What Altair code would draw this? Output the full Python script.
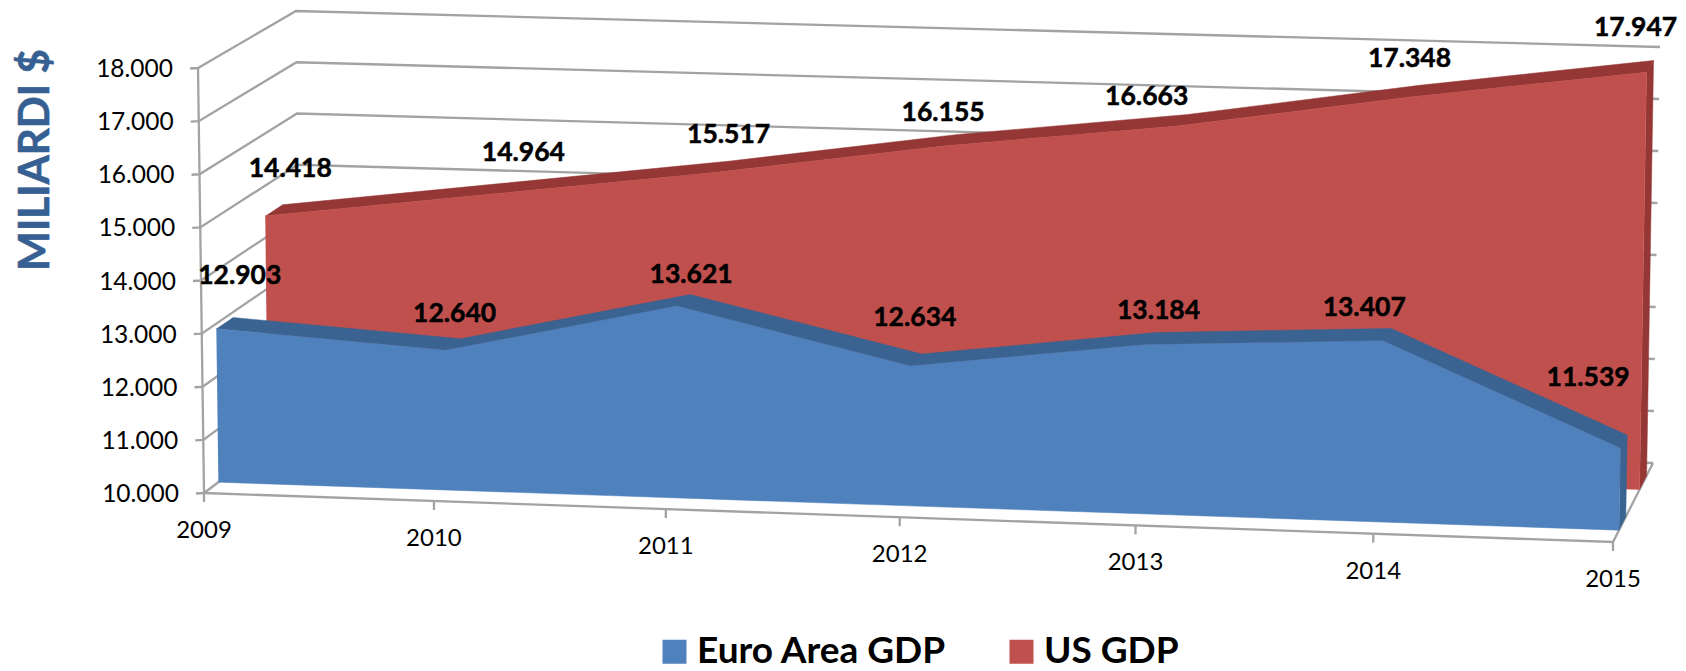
import altair as alt
import pandas as pd

# ---- chart values -------------------------------------------------------
years = [2009, 2010, 2011, 2012, 2013, 2014, 2015]
euro_gdp = [12903, 12640, 13621, 12634, 13184, 13407, 11539]
us_gdp = [14418, 14964, 15517, 16155, 16663, 17348, 17947]
value_ticks = [10000, 11000, 12000, 13000, 14000, 15000, 16000, 17000, 18000]
series_names = ["Euro Area GDP", "US GDP"]
axis_title = "MILIARDI $"

# ---- layout: the 3D box of the picture, in page pixels --------------------
W, H = 1670, 663
FONT = "Lato"
FBL, FTL, FBR, FTR = (204, 493), (198, 68), (1613, 542), (1620, 114)
BBL, BTL, BBR, BTR = (300, 421), (296, 11), (1653, 463), (1660, 47)
EURO_DEPTH = (0.15, 0.32)
US_DEPTH = (0.665, 0.84)
EURO_NUDGE = [(7, -41), (-6, -25), (1, -20), (-7, -36), (3, -22), (-27, -20), (-39, -57)]
US_NUDGE = [(8, -36), (18, -30), (-2, -26), (-15, -21), (-41, -18), (-10, -26), (-18, -32)]


def lerp(a, b, t):
    return (a[0] + (b[0] - a[0]) * t, a[1] + (b[1] - a[1]) * t)


def project(i, value, w):
    """Year index, value and depth (0 front, 1 back) to page pixels."""
    u = i / (len(years) - 1)
    u = u * (1 + 0.025 * (u - 1))
    v = (value - value_ticks[0]) / (value_ticks[-1] - value_ticks[0])
    bottom = lerp(lerp(FBL, FBR, u), lerp(BBL, BBR, u), w)
    top = lerp(lerp(FTL, FTR, u), lerp(BTL, BTR, u), w)
    return lerp(bottom, top, v)


def rows(points, group=0):
    return [{"x": p[0], "y": p[1], "o": k, "g": group} for k, p in enumerate(points)]


n = len(years)
last = n - 1
base = value_ticks[0]


def front_face(vals, depth):
    w = depth[0]
    return rows([project(i, vals[i], w) for i in range(n)] +
                [project(last, base, w), project(0, base, w)])


def dark_faces(vals, depth):
    f, b = depth
    ribbon = [project(i, vals[i], f) for i in range(n)] + \
             [project(i, vals[i], b) for i in range(last, -1, -1)]
    side = [project(last, vals[last], f), project(last, vals[last], b),
            project(last, base, b), project(last, base, f)]
    return rows(ribbon, 0) + rows(side, 1)


# ---- scales: page pixels ----------------------------------------------------
X = alt.X("x:Q", scale=alt.Scale(domain=[8, 8 + W], nice=False, zero=False), axis=None)
Y = alt.Y("y:Q", scale=alt.Scale(domain=[8 + H, 8], nice=False, zero=False), axis=None)


def poly(data, color):
    return alt.Chart(pd.DataFrame(data)).mark_line(
        fill=color, stroke=color, strokeWidth=0.5, interpolate="linear"
    ).encode(x=X, y=Y, order="o:Q", detail="g:N")


def text_layer(df, size, bold=False, align="center", color="#000000", angle=None, heft=0):
    kw = {"angle": angle} if angle is not None else {}
    if heft:
        kw.update(stroke=color, strokeWidth=heft)
    return alt.Chart(df).mark_text(
        font=FONT, fontSize=size, fontWeight="bold" if bold else "normal",
        align=align, baseline="middle", color=color, **kw
    ).encode(x=X, y=Y, text="t:N")


fmt = lambda v: f"{v:,}".replace(",", ".")

# ---- grid ---------------------------------------------------------------------
grid = []
for g, tv in enumerate(value_ticks):
    p0 = project(0, tv, 0)
    grid += rows([(p0[0] - 8, p0[1] + 0.5), p0, project(0, tv, 1), project(last, tv, 1)], g)
g = len(value_ticks)
grid += rows([project(0, value_ticks[-1], 0), project(0, base, 0)], g)
g += 1
grid += rows([project(0, base, 0), project(last, base, 0), project(last, base, 1)], g)
g += 1
for i in range(n):
    p = project(i, base, 0)
    grid += rows([p, (p[0], p[1] + 9)], g)
    g += 1

grid_layer = alt.Chart(pd.DataFrame(grid)).mark_line(
    color="#a3a3a3", strokeWidth=2.3
).encode(x=X, y=Y, order="o:Q", detail="g:N")

# ---- texts ----------------------------------------------------------------------
tick_text = []
for tv in value_ticks:
    p = project(0, tv, 0)
    tick_text.append({"x": p[0] - 25, "y": p[1] + 2, "t": fmt(tv)})

year_text = []
for i, yr in enumerate(years):
    p = project(i, base, 0)
    year_text.append({"x": p[0], "y": p[1] + 38, "t": str(yr)})

value_text = []
for vals, depth, nudge in ((euro_gdp, EURO_DEPTH, EURO_NUDGE), (us_gdp, US_DEPTH, US_NUDGE)):
    for i in range(n):
        p = project(i, vals[i], depth[1])
        value_text.append({"x": p[0] + nudge[i][0], "y": p[1] + nudge[i][1], "t": fmt(vals[i])})

title_df = pd.DataFrame([{"x": 36, "y": 160, "t": axis_title}])

# ---- legend: a real one, from a colour scale ---------------------------------------
legend_df = pd.DataFrame({"series": series_names, "x": [100, 100], "y": [100, 100]})
legend_layer = alt.Chart(legend_df).mark_point(filled=True, size=0, opacity=0).encode(
    x=X, y=Y,
    color=alt.Color(
        "series:N",
        scale=alt.Scale(domain=series_names, range=["#4f81bd", "#c0504d"]),
        legend=alt.Legend(
            orient="none", legendX=648, legendY=625, direction="horizontal", columns=2,
            title=None, symbolType="square", symbolSize=576, symbolOpacity=1,
            labelFont=FONT, labelFontSize=37, labelFontWeight="bold", labelColor="#000000",
            labelOffset=4, columnPadding=56, symbolStrokeWidth=0, labelLimit=400,
        ),
    ),
)

chart = alt.layer(
    grid_layer,
    poly(dark_faces(us_gdp, US_DEPTH), "#953735"),
    poly(front_face(us_gdp, US_DEPTH), "#c0504d"),
    poly(dark_faces(euro_gdp, EURO_DEPTH), "#3a6391"),
    poly(front_face(euro_gdp, EURO_DEPTH), "#4f81bd"),
    text_layer(pd.DataFrame(tick_text), 24.5, align="right"),
    text_layer(pd.DataFrame(year_text), 24),
    text_layer(pd.DataFrame(value_text), 26.5, bold=True, heft=0.5),
    text_layer(title_df, 42, bold=True, color="#366092", angle=270, heft=0.6),
    legend_layer,
).properties(
    width=W, height=H, padding=0, background="#ffffff",
    autosize=alt.AutoSizeParams(type="none"),
).configure_view(stroke=None)

chart.save("out.html", embed_options={"renderer": "svg", "actions": False})
